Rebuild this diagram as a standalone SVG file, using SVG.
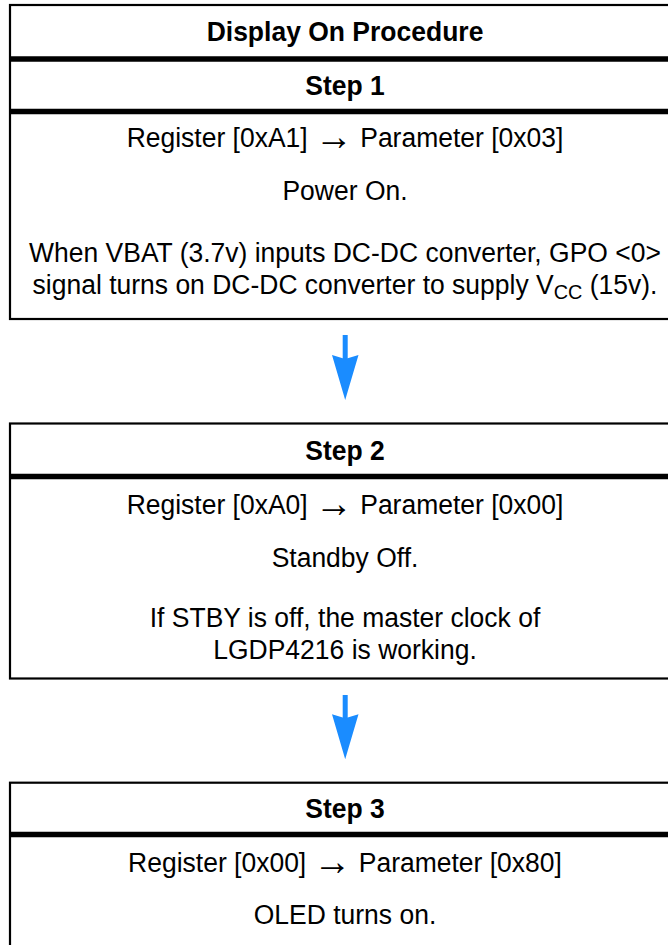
<svg xmlns="http://www.w3.org/2000/svg" width="668" height="945" viewBox="0 0 668 945">
<style>
.box{fill:#fff;stroke:#000;stroke-width:2.2}
.sep{stroke:#000;stroke-width:5.5}
.t{font-family:"Liberation Sans",Arial,sans-serif;font-size:28px;fill:#000;text-anchor:middle}
.b{font-weight:bold}
.ar{font-size:40px}
.arr{fill:#1a8cff}
</style>
<rect width="668" height="945" fill="#fff"/>
<g id="step1">
<rect class="box" x="10" y="5" width="680" height="314"/>
<line class="sep" x1="10" y1="59" x2="668" y2="59"/>
<line class="sep" x1="10" y1="111.5" x2="668" y2="111.5"/>
<g transform="translate(345 0) scale(0.946 1)">
<text class="t b" x="0" y="41">Display On Procedure</text>
<text class="t b" x="0" y="95">Step 1</text>
<text class="t" x="0" y="147.5" xml:space="preserve">Register [0xA1] <tspan class="ar" dy="3">→</tspan><tspan dy="-3"> Parameter [0x03]</tspan></text>
<text class="t" x="0" y="200.5">Power On.</text>
<text class="t" x="0" y="262">When VBAT (3.7v) inputs DC-DC converter, GPO &lt;0&gt;</text>
<text class="t" x="0" y="294">signal turns on DC-DC converter to supply V<tspan font-size="21" dy="5">CC</tspan><tspan dy="-5"> (15v).</tspan></text>
</g>
</g>
<g id="step2">
<rect class="box" x="10" y="423.5" width="680" height="255"/>
<line class="sep" x1="10" y1="476.5" x2="668" y2="476.5"/>
<g transform="translate(345 0) scale(0.946 1)">
<text class="t b" x="0" y="460.5">Step 2</text>
<text class="t" x="0" y="514" xml:space="preserve">Register [0xA0] <tspan class="ar" dy="3">→</tspan><tspan dy="-3"> Parameter [0x00]</tspan></text>
<text class="t" x="0" y="567">Standby Off.</text>
<text class="t" x="0" y="627">If STBY is off, the master clock of</text>
<text class="t" x="0" y="659">LGDP4216 is working.</text>
</g>
</g>
<g id="step3">
<rect class="box" x="10" y="782.7" width="680" height="200"/>
<line class="sep" x1="10" y1="834.5" x2="668" y2="834.5"/>
<g transform="translate(345 0) scale(0.946 1)">
<text class="t b" x="0" y="818.5">Step 3</text>
<text class="t" x="0" y="872" xml:space="preserve">Register [0x00] <tspan class="ar" dy="3">→</tspan><tspan dy="-3"> Parameter [0x80]</tspan></text>
<text class="t" x="0" y="924">OLED turns on.</text>
</g>
</g>
<g id="connectors">
<rect class="arr" x="342.7" y="335" width="5" height="24"/>
<polygon class="arr" points="332,355 345.2,359 358.5,355 345.2,400"/>
<rect class="arr" x="342.7" y="695" width="5" height="24"/>
<polygon class="arr" points="332,714.3 345.2,718.3 358.5,714.3 345.2,759.3"/>
</g>
</svg>
